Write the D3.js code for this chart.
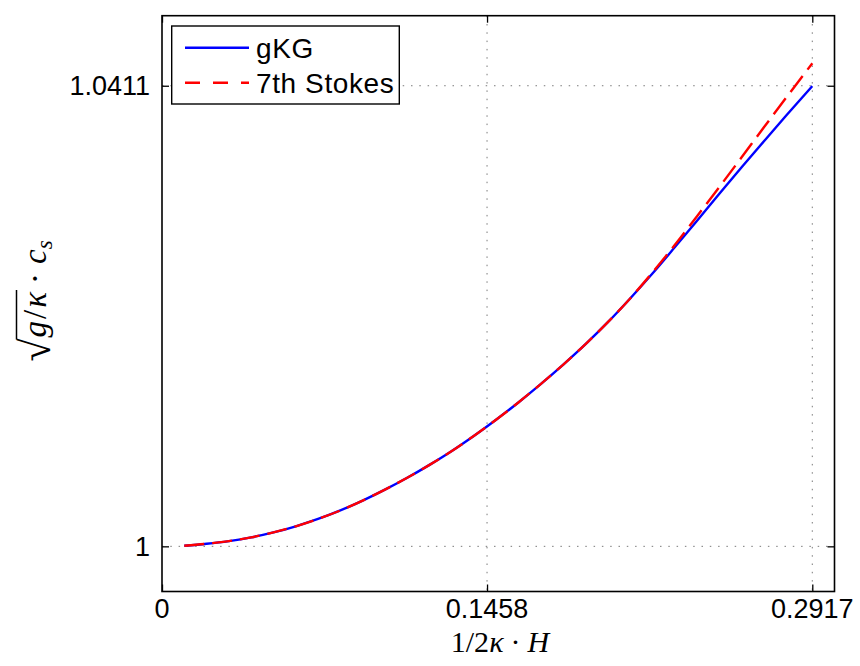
<!DOCTYPE html>
<html>
<head>
<meta charset="utf-8">
<script src="https://cdn.jsdelivr.net/npm/d3@7"></script>
<style>
  body { margin: 0; background: #fff; }
  svg { display: block; }
  .tick-label { font-family: "Liberation Sans", Arial, sans-serif; font-size: 27px; fill: #000; }
  .legend-label { font-family: "Liberation Sans", Arial, sans-serif; font-size: 28px; letter-spacing: 0.6px; fill: #000; }
  .math { font-family: "Liberation Serif", "DejaVu Serif", serif; fill: #000; }
</style>
</head>
<body>
<svg id="chart"></svg>
<script>
// values
var waveHeight = [0.01, 0.02, 0.03, 0.04, 0.05, 0.06, 0.07, 0.08, 0.09, 0.10,
                  0.11, 0.12, 0.13, 0.14, 0.15, 0.16, 0.17, 0.18, 0.19, 0.20,
                  0.21, 0.22, 0.23, 0.24, 0.25, 0.26, 0.27, 0.28, 0.2917];
var gkgSpeed = [1.00005, 1.00023, 1.00047, 1.00080, 1.00124, 1.00179, 1.00244, 1.00320, 1.00408, 1.00506,
                1.00612, 1.00727, 1.00851, 1.00987, 1.01132, 1.01286, 1.01450, 1.01622, 1.01804, 1.02000,
                1.02212, 1.02434, 1.02668, 1.02906, 1.03146, 1.03382, 1.03614, 1.03844, 1.04107];
var stokesSpeed = [1.00005, 1.00023, 1.00047, 1.00080, 1.00124, 1.00179, 1.00244, 1.00320, 1.00408, 1.00506,
                   1.00612, 1.00727, 1.00851, 1.00987, 1.01132, 1.01286, 1.01450, 1.01622, 1.01804, 1.02000,
                   1.02212, 1.02444, 1.02688, 1.02946, 1.03206, 1.03472, 1.03739, 1.04004, 1.04310];
var xTicks = [0, 0.1458, 0.2917];
var yTicks = [1, 1.0411];
var seriesNames = ["gKG", "7th Stokes"];
var seriesColors = ["#0000ff", "#ff0000"];

var screen = {width: 860, height: 666};
var plot = {left: 162, right: 834.5, top: 15.7, bottom: 591.5};

var svg = d3.select("#chart")
    .attr("width", screen.width)
    .attr("height", screen.height);

var xScale = d3.scaleLinear()
    .domain([0, 0.30166])
    .range([plot.left, plot.right]);

var yScale = d3.scaleLinear()
    .domain([0.99597, 1.04735])
    .range([plot.bottom, plot.top]);

// dotted grid
var grid = svg.append("g");
grid.selectAll(".vgrid")
    .data(xTicks.slice(1))
    .enter().append("line")
    .attr("x1", function(d) { return xScale(d); })
    .attr("x2", function(d) { return xScale(d); })
    .attr("y1", plot.top).attr("y2", plot.bottom)
    .attr("stroke", "#7a7a7a").attr("stroke-width", 1)
    .attr("stroke-dasharray", "1.5,6.8");
grid.selectAll(".hgrid")
    .data(yTicks)
    .enter().append("line")
    .attr("y1", function(d) { return yScale(d); })
    .attr("y2", function(d) { return yScale(d); })
    .attr("x1", plot.left).attr("x2", plot.right)
    .attr("stroke", "#7a7a7a").attr("stroke-width", 1)
    .attr("stroke-dasharray", "1.5,6.8");

// lines
var rows = waveHeight.map(function(h, i) {
    return {h: h, gkg: gkgSpeed[i], stokes: stokesSpeed[i]};
});

var lineGkg = d3.line()
    .x(function(d) { return xScale(d.h); })
    .y(function(d) { return yScale(d.gkg); })
    .curve(d3.curveMonotoneX);

var lineStokes = d3.line()
    .x(function(d) { return xScale(d.h); })
    .y(function(d) { return yScale(d.stokes); })
    .curve(d3.curveMonotoneX);

svg.append("path")
    .datum(rows)
    .attr("d", lineGkg)
    .attr("fill", "none")
    .attr("stroke", seriesColors[0])
    .attr("stroke-width", 2.4);

svg.append("path")
    .datum(rows)
    .attr("d", lineStokes)
    .attr("fill", "none")
    .attr("stroke", seriesColors[1])
    .attr("stroke-width", 2.4)
    .attr("stroke-dasharray", "20,8");

// axes, matlab style: ticks inside on all four sides
var axisBottom = d3.axisBottom(xScale).tickValues(xTicks).tickSizeInner(-7).tickSizeOuter(0).tickFormat("");
var axisTop = d3.axisTop(xScale).tickValues(xTicks).tickSizeInner(-7).tickSizeOuter(0).tickFormat("");
var axisLeft = d3.axisLeft(yScale).tickValues(yTicks).tickSizeInner(-7).tickSizeOuter(0).tickFormat("");
var axisRight = d3.axisRight(yScale).tickValues(yTicks).tickSizeInner(-7).tickSizeOuter(0).tickFormat("");

svg.append("g").attr("transform", "translate(0," + plot.bottom + ")").call(axisBottom);
svg.append("g").attr("transform", "translate(0," + plot.top + ")").call(axisTop);
svg.append("g").attr("transform", "translate(" + plot.left + ",0)").call(axisLeft);
svg.append("g").attr("transform", "translate(" + plot.right + ",0)").call(axisRight);
svg.selectAll(".domain").remove();
svg.selectAll(".tick line").attr("stroke", "#000").attr("stroke-width", 1.3);

svg.append("rect")
    .attr("x", plot.left).attr("y", plot.top)
    .attr("width", plot.right - plot.left)
    .attr("height", plot.bottom - plot.top)
    .attr("fill", "none")
    .attr("stroke", "#000")
    .attr("stroke-width", 1.6);

// tick labels
svg.selectAll(".xlab")
    .data(xTicks)
    .enter().append("text")
    .attr("class", "tick-label")
    .attr("x", function(d) { return xScale(d); })
    .attr("y", 618)
    .attr("text-anchor", "middle")
    .text(function(d) { return d === 0 ? "0" : d.toFixed(4); });

svg.selectAll(".ylab")
    .data(yTicks)
    .enter().append("text")
    .attr("class", "tick-label")
    .attr("x", 150)
    .attr("y", function(d) { return yScale(d) + 9.5; })
    .attr("text-anchor", "end")
    .text(function(d) { return d === 1 ? "1" : d.toFixed(4); });

// math labels built piece by piece
var drawMath = function(target, pieces, size) {
    var g = target.append("g");
    var x = 0;
    var spans = [];
    pieces.forEach(function(p) {
        var t = g.append("text")
            .attr("class", "math")
            .attr("x", x)
            .attr("y", p.dy || 0)
            .style("font-size", (p.size || size) + "px")
            .style("font-style", p.italic ? "italic" : "normal")
            .text(p.t);
        var w = t.node().getComputedTextLength();
        spans.push({x: x, w: w});
        x += w + (p.gap || 0);
    });
    return {g: g, width: x, spans: spans};
};

var xLabel = drawMath(svg, [
    {t: "1/2"},
    {t: "κ", italic: true, gap: 7},
    {t: "·", gap: 7},
    {t: "H", italic: true}
], 30);
xLabel.g.attr("transform", "translate(" + (500 - xLabel.width / 2) + ",652)");

var yG = svg.append("g");
var yLabel = drawMath(yG, [
    {t: "√", size: 42, dy: 4, gap: 1},
    {t: "g", italic: true, gap: 2},
    {t: "/", gap: 2},
    {t: "κ", italic: true, gap: 8},
    {t: "·", gap: 9},
    {t: "c", italic: true},
    {t: "s", italic: true, size: 23, dy: 6}
], 33);
var s1 = yLabel.spans[1], s3 = yLabel.spans[3];
yLabel.g.append("line")
    .attr("x1", s1.x - 2).attr("x2", s3.x + s3.w + 2)
    .attr("y1", -29.5).attr("y2", -29.5)
    .attr("stroke", "#000").attr("stroke-width", 1.5);
yLabel.g.attr("transform", "translate(" + (-yLabel.width / 2) + ",0)");
yG.attr("transform", "translate(46,301) rotate(-90)");

// legend
var legend = svg.append("g").attr("transform", "translate(171.7,26)");
legend.append("rect")
    .attr("width", 227.6).attr("height", 78)
    .attr("fill", "#fff").attr("stroke", "#000").attr("stroke-width", 1.4);

var entries = legend.selectAll(".entry")
    .data(seriesNames)
    .enter().append("g")
    .attr("transform", function(d, i) { return "translate(0," + (21.7 + i * 35) + ")"; });

entries.append("line")
    .attr("x1", 13.3).attr("x2", 77.3)
    .attr("stroke", function(d, i) { return seriesColors[i]; })
    .attr("stroke-width", 2.4)
    .attr("stroke-dasharray", function(d, i) { return i === 1 ? "15,13" : null; });

entries.append("text")
    .attr("class", "legend-label")
    .attr("x", 84.3)
    .attr("y", 10)
    .text(function(d) { return d; });
</script>
</body>
</html>
